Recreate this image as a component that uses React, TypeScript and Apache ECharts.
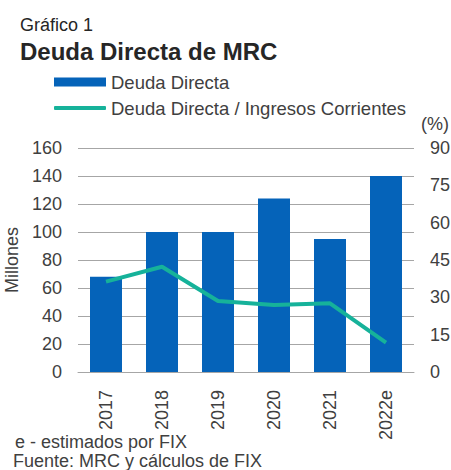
import React, { useEffect, useRef } from "react";
import * as echarts from "echarts";

const categories = ["2017", "2018", "2019", "2020", "2021", "2022e"];
const deudaDirecta = [68, 100, 100, 124, 95, 140];
const deudaIngresos = [36.3, 42.3, 28.5, 26.9, 27.6, 11.8];
const leftTicks = { min: 0, max: 160, interval: 20 };
const rightTicks = { min: 0, max: 90, interval: 15 };

const FONT = "'Liberation Sans', Arial, sans-serif";
const TEXT = "#404040";

export default function App() {
  const ref = useRef<HTMLDivElement>(null);
  useEffect(() => {
    document.body.style.margin = "0";
    const chart = echarts.init(ref.current!, null, { renderer: "svg" });
    chart.setOption({
      animation: false,
      backgroundColor: "#ffffff",
      textStyle: { fontFamily: FONT },
      graphic: [
        { type: "text", x: 20, y: 25, style: { text: "Gráfico 1", font: `18px ${FONT}`, fill: "#262626", verticalAlign: "middle" } },
        { type: "text", x: 20, y: 51, style: { text: "Deuda Directa de MRC", font: `bold 24px ${FONT}`, fill: "#262626", verticalAlign: "middle" } },
        { type: "text", x: 421, y: 124, style: { text: "(%)", font: `18px ${FONT}`, fill: TEXT, verticalAlign: "middle" } },
        { type: "text", x: 15, y: 442, style: { text: "e - estimados por FIX", font: `18px ${FONT}`, lineHeight: 18, fill: TEXT, verticalAlign: "middle" } },
        { type: "text", x: 13, y: 461, style: { text: "Fuente: MRC y cálculos de FIX", font: `18px ${FONT}`, lineHeight: 18, fill: TEXT, verticalAlign: "middle" } },
      ],
      legend: [
        {
          left: 54,
          top: 72,
          padding: 0,
          itemWidth: 52,
          itemHeight: 9,
          data: [{ name: "Deuda Directa", icon: "rect" }],
          textStyle: { fontSize: 18.5, color: TEXT, lineHeight: 20, fontFamily: FONT },
        },
        {
          left: 54,
          top: 98,
          padding: 0,
          itemWidth: 52,
          itemHeight: 4,
          data: [{ name: "Deuda Directa / Ingresos Corrientes", icon: "roundRect" }],
          textStyle: { fontSize: 18.5, color: TEXT, lineHeight: 20, fontFamily: FONT },
        },
      ],
      grid: { left: 78, right: 37, top: 148, bottom: 98, containLabel: false, outerBoundsMode: "none" },
      xAxis: {
        type: "category",
        data: categories,
        axisLine: { show: true, lineStyle: { color: "#A6A6A6", width: 1 } },
        axisTick: { show: false },
        axisLabel: { rotate: 90, fontSize: 18, color: TEXT, margin: 18, fontFamily: FONT },
      },
      yAxis: [
        {
          type: "value",
          ...leftTicks,
          name: "Millones",
          nameLocation: "middle",
          nameRotate: 90,
          nameGap: 56,
          nameTextStyle: { fontSize: 18, color: TEXT, fontFamily: FONT },
          axisLine: { show: false },
          axisTick: { show: false },
          splitLine: { lineStyle: { color: "#A6A6A6", width: 1 } },
          axisLabel: { fontSize: 18, color: TEXT, margin: 16, fontFamily: FONT },
        },
        {
          type: "value",
          ...rightTicks,
          position: "right",
          axisLine: { show: false },
          axisTick: { show: false },
          splitLine: { show: false },
          axisLabel: { fontSize: 18, color: TEXT, margin: 16, fontFamily: FONT },
        },
      ],
      series: [
        {
          name: "Deuda Directa",
          type: "bar",
          data: deudaDirecta,
          yAxisIndex: 0,
          barWidth: 32,
          itemStyle: { color: "#0563B9" },
        },
        {
          name: "Deuda Directa / Ingresos Corrientes",
          type: "line",
          data: deudaIngresos,
          yAxisIndex: 1,
          symbol: "none",
          showSymbol: false,
          lineStyle: { color: "#16B29A", width: 4 },
          itemStyle: { color: "#16B29A" },
        },
      ],
    });
    return () => chart.dispose();
  }, []);
  return <div ref={ref} style={{ width: 451, height: 470 }} />;
}
